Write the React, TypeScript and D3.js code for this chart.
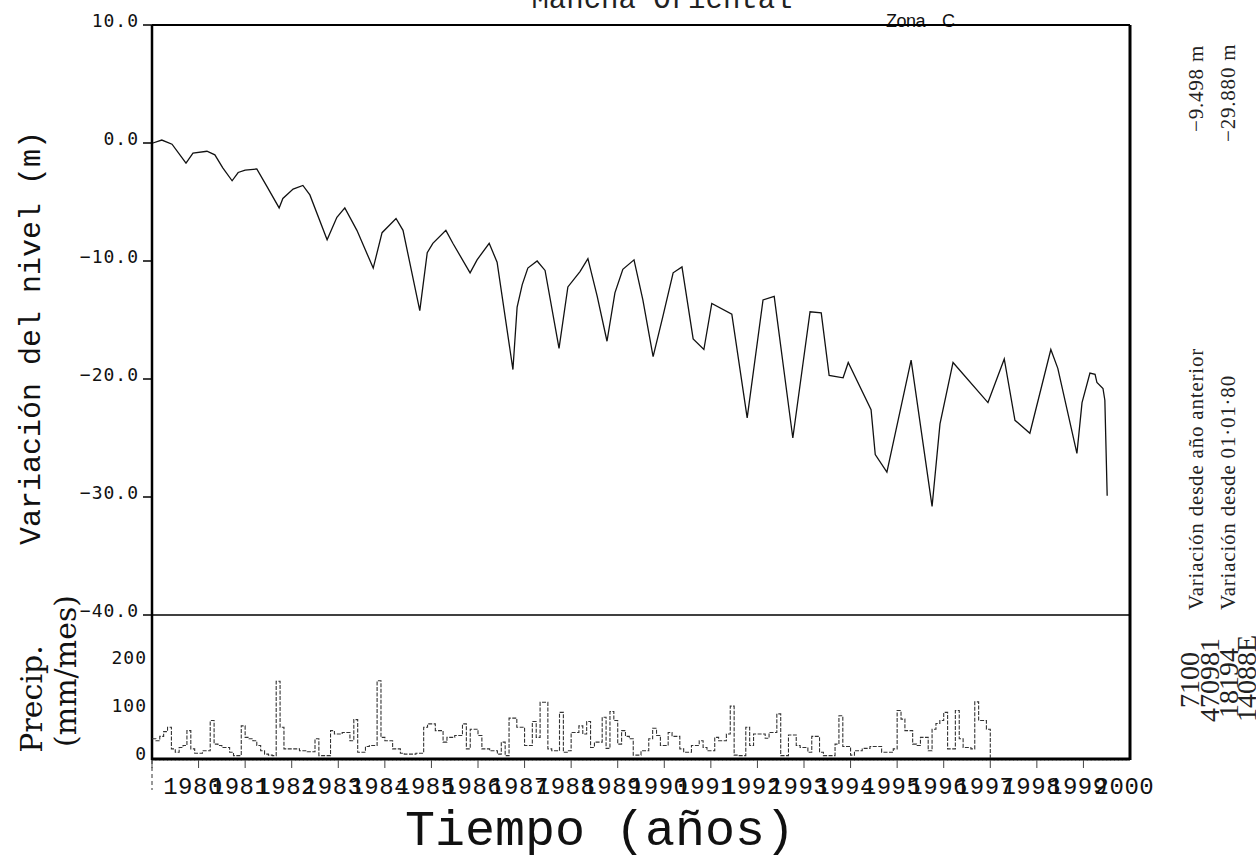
import * as d3 from "d3";

// water level (m) relative to 01-01-1980, decimal years
const levelYears = [
  1980.02, 1980.21, 1980.43, 1980.73, 1980.88, 1981.18, 1981.35, 1981.52, 1981.72, 1981.85,
  1982.0, 1982.25, 1982.47, 1982.73, 1982.81, 1983.03, 1983.24, 1983.39, 1983.76, 1983.97,
  1984.14, 1984.4, 1984.75, 1984.94, 1985.24, 1985.39, 1985.75, 1985.91, 1986.03, 1986.31,
  1986.46, 1986.83, 1986.98, 1987.24, 1987.41, 1987.75, 1987.84, 1987.95, 1988.07, 1988.27,
  1988.44, 1988.74, 1988.93, 1989.19, 1989.36, 1989.56, 1989.77, 1989.94, 1990.11, 1990.35,
  1990.54, 1990.76, 1990.97, 1991.19, 1991.38, 1991.62, 1991.85, 1992.02, 1992.45, 1992.78,
  1993.12, 1993.36, 1993.76, 1994.13, 1994.37, 1994.54, 1994.84, 1994.95, 1995.44, 1995.53,
  1995.78, 1996.3, 1996.75, 1996.92, 1997.2, 1997.95, 1998.3, 1998.53, 1998.85, 1999.3,
  1999.45, 1999.86, 1999.97, 2000.14, 2000.25, 2000.29, 2000.42, 2000.46, 2000.51,
];
const levelValues = [
  0.0, 0.25, -0.1, -1.7, -0.85, -0.7, -1.0, -2.1, -3.2, -2.5,
  -2.3, -2.2, -3.7, -5.5, -4.7, -3.9, -3.6, -4.4, -8.2, -6.3,
  -5.5, -7.4, -10.6, -7.6, -6.4, -7.4, -14.2, -9.3, -8.5, -7.4,
  -8.5, -11.0, -9.9, -8.5, -10.1, -19.2, -13.9, -12.0, -10.6, -10.0,
  -10.8, -17.4, -12.2, -10.9, -9.8, -13.0, -16.8, -12.7, -10.7, -9.9,
  -13.3, -18.1, -14.7, -11.0, -10.5, -16.6, -17.5, -13.6, -14.5, -23.3,
  -13.3, -13.0, -25.0, -14.3, -14.4, -19.7, -19.9, -18.6, -22.6, -26.4,
  -27.9, -18.4, -30.8, -23.8, -18.6, -22.0, -18.3, -23.5, -24.6, -17.5,
  -19.1, -26.3, -22.0, -19.5, -19.6, -20.3, -20.8, -21.8, -29.9,
];

// monthly precipitation (mm/mes)
const precip1980 = [40, 36, 45, 55, 64, 19, 12, 22, 26, 57, 19, 10];
const precip1981 = [10, 15, 15, 78, 29, 26, 22, 22, 12, 5, 5, 67];
const precip1982 = [43, 40, 36, 26, 15, 8, 6, 5, 160, 64, 19, 19];
const precip1983 = [19, 19, 15, 15, 13, 13, 40, 5, 5, 5, 57, 50];
const precip1984 = [50, 53, 53, 36, 80, 12, 12, 24, 26, 26, 161, 43];
const precip1985 = [36, 36, 19, 19, 10, 8, 8, 8, 10, 10, 64, 71];
const precip1986 = [71, 57, 57, 33, 43, 43, 47, 47, 71, 19, 60, 60];
const precip1987 = [47, 19, 19, 15, 15, 8, 33, 5, 83, 83, 64, 64];
const precip1988 = [26, 26, 76, 43, 116, 116, 19, 15, 15, 95, 12, 15];
const precip1989 = [53, 53, 67, 50, 76, 22, 33, 33, 85, 20, 97, 78];
const precip1990 = [29, 57, 45, 40, 6, 6, 15, 15, 40, 62, 47, 26];
const precip1991 = [26, 53, 45, 45, 19, 12, 12, 26, 26, 36, 22, 15];
const precip1992 = [15, 43, 36, 36, 50, 108, 6, 5, 5, 64, 26, 50];
const precip1993 = [50, 50, 41, 53, 53, 92, 5, 5, 48, 48, 26, 22];
const precip1994 = [22, 12, 45, 45, 12, 5, 5, 5, 29, 88, 24, 24];
const precip1995 = [6, 15, 15, 20, 20, 24, 24, 24, 12, 12, 12, 19];
const precip1996 = [99, 81, 57, 57, 29, 26, 43, 43, 15, 60, 72, 78];
const precip1997 = [95, 19, 19, 99, 40, 22, 22, 19, 117, 78, 78, 60];

const precipYears = [
  precip1980, precip1981, precip1982, precip1983, precip1984, precip1985,
  precip1986, precip1987, precip1988, precip1989, precip1990, precip1991,
  precip1992, precip1993, precip1994, precip1995, precip1996, precip1997,
];

const yearLabels = [
  "1980", "1981", "1982", "1983", "1984", "1985", "1986", "1987", "1988", "1989",
  "1990", "1991", "1992", "1993", "1994", "1995", "1996", "1997", "1998", "1999", "2000",
];
const levelTicks = [10, 0, -10, -20, -30, -40];
const precipTicks = [0, 100, 200];

const W = 1256;
const H = 860;
const left = 152;
const right = 1130;

const App = () => {
  const x = d3.scaleLinear().domain([1980, 2001]).range([left, right]);
  const yLevel = d3.scaleLinear().domain([-40, 10]).range([615, 25]);
  const yPrecip = d3.scaleLinear().domain([0, 200]).range([758, 662]);
  const fmt = d3.format(".1f");

  const levelPts = levelYears.map((t, i) => [t, levelValues[i]] as [number, number]);
  const levelLine = d3
    .line<[number, number]>()
    .x((d) => x(d[0]))
    .y((d) => yLevel(d[1]));

  const monthly = precipYears.flat();
  const precipPts: [number, number][] = monthly.map((v, i) => [1980 + i / 12, v]);
  precipPts.push([1980 + monthly.length / 12, monthly[monthly.length - 1]]);
  precipPts.push([1980 + monthly.length / 12, 0]);
  const precipLine = d3
    .line<[number, number]>()
    .x((d) => x(d[0]))
    .y((d) => yPrecip(d[1]))
    .curve(d3.curveStepAfter);

  const monthTicks = d3.range(0, 21 * 12).map((i) => 1980 + i / 12);
  const mono = "'Liberation Mono', monospace";
  const sansMono = "'DejaVu Sans Mono', monospace";
  const serif = "'DejaVu Serif', serif";
  const times = "'Liberation Serif', serif";

  return (
    <div style={{ position: "absolute", left: 0, top: 0 }}>
      <svg width={W} height={H} style={{ display: "block", background: "#fff" }}>
        {/* title, clipped at top */}
        <text x={662} y={8} textAnchor="middle" fontFamily={mono} fontSize={29} fill="#222">
          Mancha Oriental
        </text>
        <text x={886} y={27} fontFamily="'Liberation Sans', sans-serif" fontSize={18} letterSpacing={-0.5} fill="#111">
          Zona
        </text>
        <text x={942} y={27} fontFamily="'Liberation Sans', sans-serif" fontSize={18} fill="#111">
          C
        </text>

        {/* frame */}
        <line x1={left} x2={right} y1={25} y2={25} stroke="#000" strokeWidth={2} />
        <line x1={left} x2={right} y1={yLevel(-40)} y2={yLevel(-40)} stroke="#000" strokeWidth={1.5} />
        <line x1={left} x2={left} y1={25} y2={760} stroke="#000" strokeWidth={2.5} />
        <line x1={right} x2={right} y1={25} y2={760} stroke="#000" strokeWidth={3} />
        <line x1={left} x2={right} y1={yPrecip(0) + 1} y2={yPrecip(0) + 1} stroke="#000" strokeWidth={3} />

        {/* level axis */}
        {levelTicks.map((v) => (
          <g key={v}>
            <line x1={143} x2={left} y1={yLevel(v)} y2={yLevel(v)} stroke="#000" strokeWidth={1.5} />
            <text
              x={139}
              y={yLevel(v) - 3}
              textAnchor="end"
              dominantBaseline="middle"
              fontFamily={sansMono}
              fontSize={18}
              letterSpacing={1}
              fill="#111"
            >
              {fmt(v)}
            </text>
          </g>
        ))}

        {/* precip axis */}
        {precipTicks.map((v) => (
          <text
            key={v}
            x={147}
            y={yPrecip(v) - 3}
            textAnchor="end"
            dominantBaseline="middle"
            fontFamily={sansMono}
            fontSize={18}
            letterSpacing={1}
            fill="#111"
          >
            {v}
          </text>
        ))}

        {/* x ticks */}
        {monthTicks.map((t, i) => (
          <line
            key={i}
            x1={x(t)}
            x2={x(t)}
            y1={yPrecip(0) + 2}
            y2={yPrecip(0) + (i % 12 === 0 ? 10 : 4)}
            stroke="#444"
            strokeWidth={i % 12 === 0 ? 1 : 0.6}
            strokeDasharray={i % 12 === 0 ? "none" : "1 1"}
          />
        ))}
        <line x1={left} x2={left} y1={760} y2={790} stroke="#333" strokeWidth={1} strokeDasharray="4 3" />
        {yearLabels.map((lab, i) => (
          <text
            key={lab}
            x={x(1980 + i) + 41}
            y={794}
            textAnchor="middle"
            fontFamily={mono}
            fontSize={24}
            letterSpacing={0.5}
            fill="#111"
          >
            {lab}
          </text>
        ))}

        {/* series */}
        <path d={levelLine(levelPts) ?? ""} fill="none" stroke="#111" strokeWidth={1.3} />
        <path
          d={precipLine(precipPts) ?? ""}
          fill="none"
          stroke="#333"
          strokeWidth={1.1}
          strokeDasharray="4 1.5"
        />

        {/* axis titles */}
        <text transform="translate(40,338) rotate(-90)" textAnchor="middle" fontFamily={mono} fontSize={30} fill="#111">
          Variación del nivel (m)
        </text>
        <text transform="translate(42,699) rotate(-90)" textAnchor="middle" fontFamily={serif} fontSize={30} fill="#111">
          Precip.
        </text>
        <text transform="translate(76,671) rotate(-90)" textAnchor="middle" fontFamily={serif} fontSize={30} fill="#111">
          (mm/mes)
        </text>
        <text x={600} y={845} textAnchor="middle" fontFamily={mono} fontSize={50} fill="#111">
          Tiempo (años)
        </text>

        {/* right side notes */}
        <text transform="translate(1203,610) rotate(-90)" fontFamily={times} fontSize={21} letterSpacing={0.8} fill="#222">
          Variación desde año anterior
        </text>
        <text transform="translate(1203,132) rotate(-90)" fontFamily={times} fontSize={21} letterSpacing={0.8} fill="#222">
          −9.498 m
        </text>
        <text transform="translate(1235,610) rotate(-90)" fontFamily={times} fontSize={21} letterSpacing={0.8} fill="#222">
          Variación desde 01·01·80
        </text>
        <text transform="translate(1235,142) rotate(-90)" fontFamily={times} fontSize={21} letterSpacing={0.8} fill="#222">
          −29.880 m
        </text>
        <text transform="translate(1199,708) rotate(-90)" fontFamily={times} fontSize={28} fill="#222">
          7100
        </text>
        <text transform="translate(1219,722) rotate(-90)" fontFamily={times} fontSize={28} fill="#222">
          470981
        </text>
        <text transform="translate(1238,718) rotate(-90)" fontFamily={times} fontSize={28} fill="#222">
          18194
        </text>
        <text transform="translate(1256,722) rotate(-90)" fontFamily={times} fontSize={28} fill="#222">
          14088E
        </text>
      </svg>
    </div>
  );
};

export default App;
